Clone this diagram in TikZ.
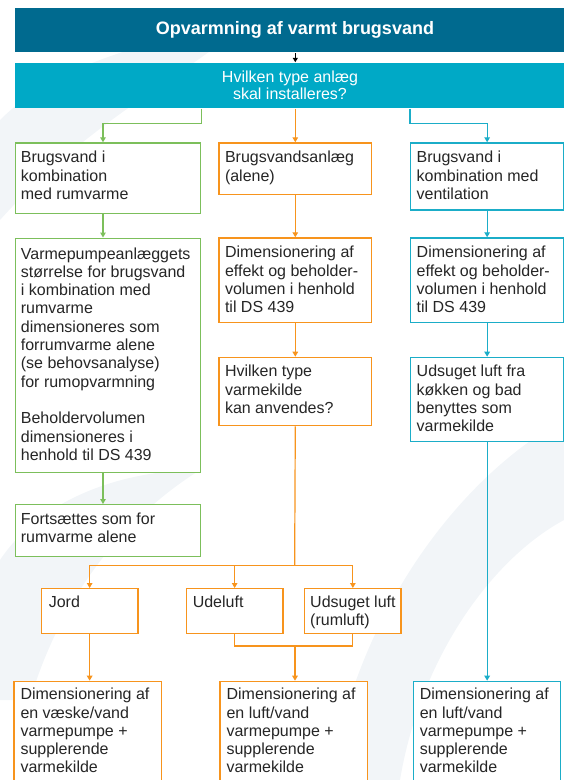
\documentclass[tikz,border=0pt]{standalone}
\usepackage{fontspec}
\setmainfont{Liberation Sans}
\usetikzlibrary{arrows.meta}
\definecolor{hdr}{HTML}{006A8F}
\definecolor{subc}{HTML}{00A9C6}
\definecolor{grn}{HTML}{7CBF5B}
\definecolor{org}{HTML}{F7941D}
\definecolor{cyn}{HTML}{1BADC8}
\definecolor{swirl}{HTML}{F2F5F8}
\tikzset{
  boxbase/.style={line width=1.3pt, fill=white, anchor=north west, inner sep=0pt},
  gbox/.style={boxbase, draw=grn},
  obox/.style={boxbase, draw=org},
  cbox/.style={boxbase, draw=cyn},
  txt/.style={anchor=north west, inner sep=0pt, align=left, text=black!85,
    font=\fontsize{16}{18.3}\selectfont},
  conn/.style={line width=1.2pt},
  tip/.style={-{Triangle[width=5.5pt,length=5pt]}},
  garr/.style={conn, draw=grn, tip},
  oarr/.style={conn, draw=org, tip},
  carr/.style={conn, draw=cyn, tip},
  oline/.style={conn, draw=org},
  karr/.style={conn, draw=black, -{Triangle[width=5pt,length=4.5pt]}},
}
\begin{document}
\begin{tikzpicture}[x=1pt,y=-1pt]
\useasboundingbox (0,0) rectangle (564,780);
\clip (0,0) rectangle (564,780);
% faint background swirls
\fill[swirl] (0,120) .. controls (60,60) and (160,40) .. (250,20) .. controls (180,80) and (90,120) .. (0,220) -- cycle;
\fill[swirl] (330,780) .. controls (360,600) and (470,470) .. (564,420) -- (564,520) .. controls (490,560) and (420,660) .. (400,780) -- cycle;
\fill[swirl] (0,560) .. controls (40,500) and (120,470) .. (200,470) .. controls (120,520) and (60,600) .. (30,700) -- (0,700) -- cycle;

% header boxes
\node[boxbase, fill=hdr, minimum width=549.6pt, minimum height=44.4pt] (hdr) at (14.4,7.3) {};
\node[anchor=center, text=white, font=\bfseries\fontsize{18}{20}\selectfont] (hdrt) at (295,29.5) {Opvarmning af varmt brugsvand};
\node[boxbase, fill=subc, minimum width=549.6pt, minimum height=45pt] (sub) at (14.4,62.3) {};
\node[anchor=center, align=center, text=white, font=\fontsize{16}{17}\selectfont] (subt) at (290,85) {Hvilken type anlæg\\skal installeres?};

% green column
\node[gbox, minimum width=185.3pt, minimum height=70.4pt] (g1) at (14.7,142.3) {};
\node[gbox, minimum width=185.3pt, minimum height=234.2pt] (g2) at (14.7,237.5) {};
\node[gbox, minimum width=185.3pt, minimum height=52pt] (g3) at (14.7,504) {};
% orange column
\node[obox, minimum width=152.7pt, minimum height=51.7pt] (o1) at (218.3,142.3) {};
\node[obox, minimum width=152.7pt, minimum height=84.4pt] (o2) at (218.3,237.3) {};
\node[obox, minimum width=152.7pt, minimum height=68.3pt] (o3) at (218.3,356.7) {};
% cyan column
\node[cbox, minimum width=153pt, minimum height=67pt] (c1) at (410,142.3) {};
\node[cbox, minimum width=153pt, minimum height=84.4pt] (c2) at (410,237.3) {};
\node[cbox, minimum width=153pt, minimum height=84.3pt] (c3) at (410,356.7) {};
% heat sources
\node[obox, minimum width=96.8pt, minimum height=44.7pt] (j) at (40.6,588) {};
\node[obox, minimum width=96.8pt, minimum height=44.7pt] (u) at (185.6,588) {};
\node[obox, minimum width=96.4pt, minimum height=44.7pt] (s) at (304,588) {};
% bottom boxes
\node[obox, minimum width=147.5pt, minimum height=120pt] (b1) at (13.3,680.7) {};
\node[obox, minimum width=147.6pt, minimum height=120pt] (b2) at (219.4,680.7) {};
\node[cbox, minimum width=147.4pt, minimum height=120pt] (b3) at (412.6,680.7) {};

% texts
\node[txt] (g1t) at ([shift={(6,7.5)}]g1.north west) {\strut Brugsvand i\\kombination\\med rumvarme};
\node[txt] (g2t) at ([shift={(6,8.5)}]g2.north west) {\strut Varmepumpeanlæggets\\størrelse for brugsvand\\i kombination med\\rumvarme\\dimensioneres som\\forrumvarme alene\\(se behovsanalyse)\\for rumopvarmning\\[18.3pt]Beholdervolumen\\dimensioneres i\\henhold til DS 439};
\node[txt] (g3t) at ([shift={(6,7.5)}]g3.north west) {\strut Fortsættes som for\\rumvarme alene};
\node[txt] (o1t) at ([shift={(6.5,7.5)}]o1.north west) {\strut Brugsvandsanlæg\\(alene)};
\node[txt] (o2t) at ([shift={(6.5,7.5)}]o2.north west) {\strut Dimensionering af\\effekt og beholder-\\volumen i henhold\\til DS 439};
\node[txt] (o3t) at ([shift={(6.5,7.2)}]o3.north west) {\strut Hvilken type\\varmekilde\\kan anvendes?};
\node[txt] (c1t) at ([shift={(6.5,7.5)}]c1.north west) {\strut Brugsvand i\\kombination med\\ventilation};
\node[txt] (c2t) at ([shift={(6.5,7.5)}]c2.north west) {\strut Dimensionering af\\effekt og beholder-\\volumen i henhold\\til DS 439};
\node[txt] (c3t) at ([shift={(6.5,7.2)}]c3.north west) {\strut Udsuget luft fra\\køkken og bad\\benyttes som\\varmekilde};
\node[txt] (jt) at ([shift={(8,6)}]j.north west) {\strut Jord};
\node[txt] (ut) at ([shift={(7,6)}]u.north west) {\strut Udeluft};
\node[txt] (st) at ([shift={(6,6)}]s.north west) {\strut Udsuget luft\\(rumluft)};
\node[txt] (b1t) at ([shift={(7,6)}]b1.north west) {\strut Dimensionering af\\en væske/vand\\varmepumpe +\\supplerende\\varmekilde};
\node[txt] (b2t) at ([shift={(7,6)}]b2.north west) {\strut Dimensionering af\\en luft/vand\\varmepumpe +\\supplerende\\varmekilde};
\node[txt] (b3t) at ([shift={(7,6)}]b3.north west) {\strut Dimensionering af\\en luft/vand\\varmepumpe +\\supplerende\\varmekilde};

% connectors
\coordinate (gx) at (103,0);
\draw[karr] (hdr.south -| o1.north) -- (sub.north -| o1.north);
\draw[garr] (sub.south -| g1.north east) -- ++(0,15) -| (g1.north -| gx);
\draw[oarr] (sub.south -| o1.north) -- (o1.north);
\draw[carr] (sub.south -| c1.north west) -- ++(0,15) -| (c1.north);
\draw[garr] (g1.south -| gx) -- (g2.north -| gx);
\draw[garr] (g2.south -| gx) -- (g3.north -| gx);
\draw[oarr] (o1.south) -- (o2.north);
\draw[oarr] (o2.south) -- (o3.north);
\draw[carr] (c1.south) -- (c2.north);
\draw[carr] (c2.south) -- (c3.north);
\coordinate (sp) at (294.65,565.7);
\draw[oline] (o3.south) -- (sp);
\draw[oarr] (sp) -| (j.north);
\draw[oarr] (sp) -| (s.north);
\draw[oarr] (u.north |- sp) -- (u.north);
\coordinate (jn) at (295,646);
\draw[oline] (u.south) -- (u.south |- jn) -- (s.south |- jn) -- (s.south);
\draw[oarr] (jn) -- (jn |- b2.north);
\draw[oarr] (j.south) -- (j.south |- b1.north);
\draw[carr] (c3.south) -- (c3.south |- b3.north);
\end{tikzpicture}
\end{document}
